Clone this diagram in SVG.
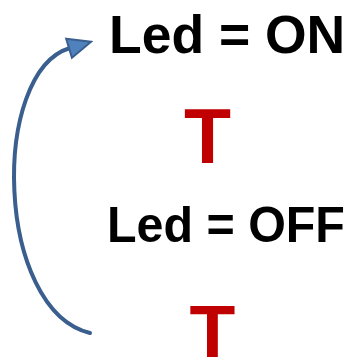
<svg xmlns="http://www.w3.org/2000/svg" width="349" height="358" viewBox="0 0 349 358">
  <style>
    .lbl { font-family: "Liberation Sans", Arial, sans-serif; font-weight: bold; fill: #000000; }
    .t { font-family: "Liberation Sans", Arial, sans-serif; font-weight: bold; fill: #C00000; text-anchor: middle; }
    .conn { fill: none; stroke: #3A5F8E; stroke-width: 4; stroke-linecap: round; }
  </style>
  <defs>
    <marker id="arrow" markerUnits="userSpaceOnUse" viewBox="-2 -2 27 24" markerWidth="27" markerHeight="24" refX="1" refY="10" orient="auto">
      <path d="M0,0 L23,10 L0,20 Z" fill="#4F81BD" stroke="#3A5F8E" stroke-width="2" stroke-linejoin="miter"/>
    </marker>
  </defs>
  <rect width="349" height="358" fill="#FFFFFF"/>
  <g id="connectors">
    <path class="conn" d="M90,333 C-5,310 -10,72 70,48" marker-end="url(#arrow)"/>
  </g>
  <g id="led-on">
    <text class="lbl" transform="translate(109,52.5) scale(1,1.02)" font-size="53.5">Led = ON</text>
  </g>
  <g id="t1">
    <text class="t" x="207.5" y="163" font-size="77">T</text>
  </g>
  <g id="led-off">
    <text class="lbl" transform="translate(107,242) scale(1,1.05)" font-size="48.4">Led = OFF</text>
  </g>
  <g id="t2">
    <text class="t" x="212.5" y="357" font-size="75">T</text>
  </g>
</svg>
